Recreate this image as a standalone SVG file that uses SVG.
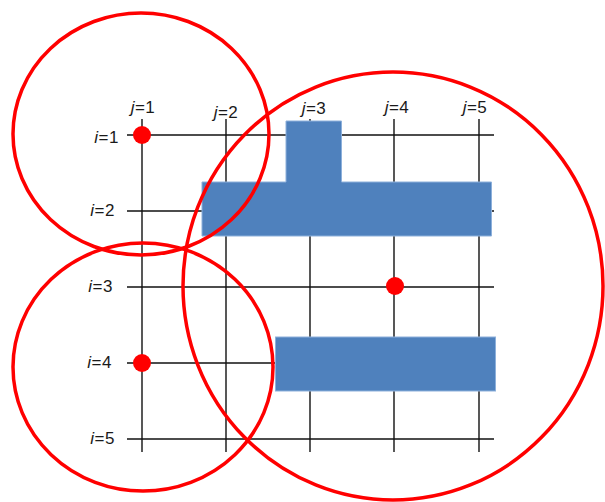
<svg xmlns="http://www.w3.org/2000/svg" width="605" height="502" viewBox="0 0 605 502">
<style>
.g{stroke:#111;stroke-width:1.4;fill:none}
.t{font-family:"Liberation Sans",Arial,sans-serif;font-size:17px;letter-spacing:0.5px;fill:#1a1a1a}
.t tspan.v{font-style:italic}
.b{fill:#4F81BD;stroke:#8DB0DB;stroke-width:1}
.c{fill:none;stroke:#FF0000;stroke-width:3.5}
.d{fill:#FF0000}
</style>
<rect width="605" height="502" fill="#fff"/>
<g id="grid">
<line class="g" x1="127" y1="135" x2="494" y2="135"/>
<line class="g" x1="127" y1="211" x2="494" y2="211"/>
<line class="g" x1="127" y1="287" x2="494" y2="287"/>
<line class="g" x1="127" y1="363" x2="494" y2="363"/>
<line class="g" x1="127" y1="439" x2="494" y2="439"/>
<line class="g" x1="142" y1="119" x2="142" y2="452"/>
<line class="g" x1="226" y1="119" x2="226" y2="452"/>
<line class="g" x1="310" y1="119" x2="310" y2="452"/>
<line class="g" x1="394" y1="119" x2="394" y2="452"/>
<line class="g" x1="479" y1="119" x2="479" y2="452"/>
</g>
<g id="labels">
<text class="t" x="143" y="113" text-anchor="middle"><tspan class="v">j</tspan>=1</text>
<text class="t" x="226" y="118" text-anchor="middle"><tspan class="v">j</tspan>=2</text>
<text class="t" x="314" y="114" text-anchor="middle"><tspan class="v">j</tspan>=3</text>
<text class="t" x="397" y="113" text-anchor="middle"><tspan class="v">j</tspan>=4</text>
<text class="t" x="475" y="113" text-anchor="middle"><tspan class="v">j</tspan>=5</text>
<text class="t" x="119" y="143" text-anchor="end"><tspan class="v">i</tspan>=1</text>
<text class="t" x="115" y="216" text-anchor="end"><tspan class="v">i</tspan>=2</text>
<text class="t" x="113" y="292" text-anchor="end"><tspan class="v">i</tspan>=3</text>
<text class="t" x="112" y="368" text-anchor="end"><tspan class="v">i</tspan>=4</text>
<text class="t" x="115" y="444" text-anchor="end"><tspan class="v">i</tspan>=5</text>
</g>
<g id="obstacles">
<path class="b" d="M286,121 H341.5 V182 H491.5 V236 H202 V182 H286 Z"/>
<rect class="b" x="275.5" y="337" width="220" height="54"/>
</g>
<g id="circles">
<ellipse class="c" cx="141" cy="134" rx="128" ry="121"/>
<ellipse class="c" cx="143" cy="367" rx="130" ry="124"/>
<ellipse class="c" cx="393" cy="286" rx="210" ry="214"/>
</g>
<g id="dots">
<circle class="d" cx="142" cy="135" r="9"/>
<circle class="d" cx="142" cy="363" r="9"/>
<circle class="d" cx="395" cy="286" r="9"/>
</g>
</svg>
